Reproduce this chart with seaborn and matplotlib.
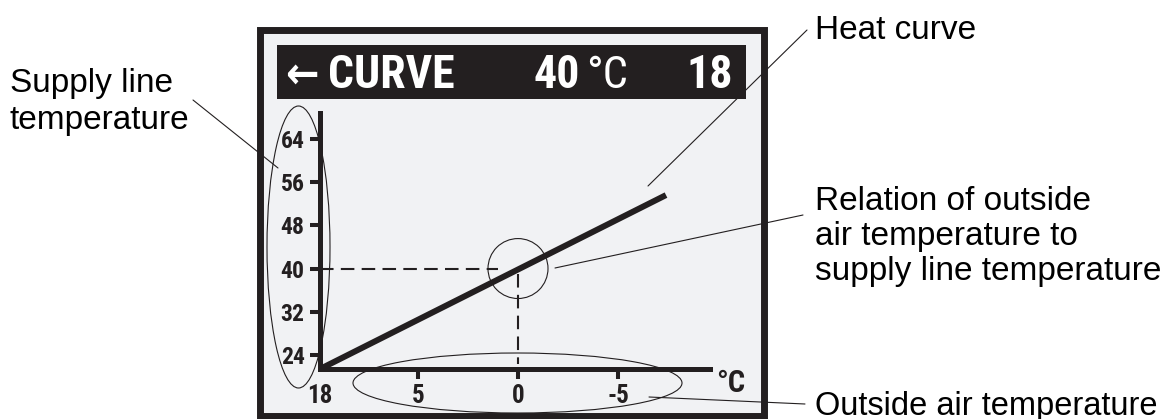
import numpy as np
import pandas as pd
from matplotlib import pyplot as plt
from matplotlib import font_manager
from matplotlib.patches import Rectangle, Ellipse
import seaborn as sns

sns.set_theme(style="white")

origin_outside = 9.9        # where the axes meet, labelled with the room temp
room_temp = 18
x_tick_pos = [origin_outside, 5, 0, -5]
x_tick_labels = ['18', '5', '0', '-5']
y_ticks = [24, 32, 40, 48, 56, 64]
curve_outside = [origin_outside, -7.4]
curve_supply = [21.4, 53.6]
set_outside = 0
set_supply = 40
x_range = (origin_outside, -9.6)
y_range = (21.4, 68.8)

callouts = ['Supply line\ntemperature', 'Heat curve',
            'Relation of outside\nair temperature to\nsupply line temperature',
            'Outside air temperature']


def condensed_font():
    # look for a narrow/condensed bold face among installed fonts
    prefs = ['Liberation Sans Narrow', 'Roboto Condensed', 'Noto Sans',
             'DejaVu Sans', 'Open Sans', 'Roboto', 'Lato', 'Inter']
    found = {}
    for f in font_manager.fontManager.ttflist:
        if f.stretch in ('condensed', 'semi-condensed', 'extra-condensed',
                         'ultra-condensed') or 'Narrow' in f.name or 'Condensed' in f.name:
            found.setdefault(f.name, f.stretch)
    for name in prefs:
        if name in found:
            return name, found[name]
    if found:
        name = sorted(found)[0]
        return name, found[name]
    return 'Roboto', 'normal'


narrow, narrow_stretch = condensed_font()
plain = 'Liberation Sans'
plt.rcParams['font.family'] = [plain, 'DejaVu Sans']

ink = '#231f20'
W, H = 1167, 419
fig = plt.figure(figsize=(W / 100, H / 100), dpi=100)

bold_narrow = dict(family=[narrow, 'DejaVu Sans'], stretch=narrow_stretch,
                   fontweight='bold')

# decoration layer in pixel units (y down)
deco = fig.add_axes([0, 0, 1, 1], zorder=0)
deco.set_xlim(0, W)
deco.set_ylim(H, 0)
deco.axis('off')

deco.add_patch(Rectangle((259.5, 30.5), 504, 385, facecolor='#f1f2f4',
                         edgecolor=ink, lw=5))
deco.add_patch(Rectangle((277, 45), 469, 54, facecolor=ink, edgecolor='none'))
deco.text(285, 88, '\u2190', color='white', fontsize=32,
          va='baseline', **bold_narrow)
deco.text(328, 88, 'CURVE', color='white', fontsize=33,
          va='baseline', **bold_narrow)
deco.text(580, 88, str(set_supply), color='white', fontsize=33,
          va='baseline', ha='right', **bold_narrow)
deco.text(628, 88, '\u00b0C', color='white', fontsize=32, ha='right',
          family=[narrow, 'DejaVu Sans'], stretch=narrow_stretch, va='baseline')
deco.text(733, 88, str(room_temp), color='white', fontsize=33,
          va='baseline', ha='right', **bold_narrow)

# callout texts
fs = 24
for i, line in enumerate(callouts[0].split('\n')):
    deco.text(10, 92 + 37 * i, line, fontsize=fs, va='baseline', color='black')
deco.text(815, 39, callouts[1], fontsize=fs, va='baseline', color='black')
for i, line in enumerate(callouts[2].split('\n')):
    deco.text(815, 210 + 35 * i, line, fontsize=fs, va='baseline', color='black')
deco.text(815, 415, callouts[3], fontsize=23.5, va='baseline', color='black')

# leader lines and marking ellipses
for (x0, y0), (x1, y1) in [((193, 100), (278, 168)), ((807, 30), (648, 186)),
                           ((555, 268), (803, 215)), ((649, 397), (805, 404))]:
    deco.plot([x0, x1], [y0, y1], color=ink, lw=0.8)
deco.add_patch(Ellipse((298.5, 247), 63, 282, fill=False, edgecolor=ink, lw=0.8))
deco.add_patch(Ellipse((517.5, 383), 329, 60, fill=False, edgecolor=ink, lw=0.8))
deco.text(731, 383, '\u00b0C', fontsize=22, color=ink,
          ha='center', va='center', **bold_narrow)

# the curve display itself
ax = fig.add_axes([320 / W, (H - 369) / H, 390 / W, 256 / H], zorder=1)
ax.patch.set_alpha(0)
df = pd.DataFrame({'outside': curve_outside, 'supply': curve_supply})
sns.lineplot(data=df, x='outside', y='supply', color=ink, lw=4.3, ax=ax,
             solid_capstyle='butt')
ax.plot([origin_outside, set_outside + 1], [set_supply, set_supply], color=ink,
        lw=1.5, dashes=(6.5, 3.5))
ax.plot([set_outside, set_outside], [set_supply - 1, y_range[0] + 1], color=ink,
        lw=1.5, dashes=(6.5, 3.5))
ax.add_patch(Ellipse((set_outside, set_supply), 3.0, 11.1, fill=False,
                     edgecolor=ink, lw=0.8))

ax.set_xlim(*x_range)
ax.set_ylim(*y_range)
ax.set_xticks(x_tick_pos)
ax.set_xticklabels(x_tick_labels)
ax.set_yticks(y_ticks)
ax.set_xlabel('')
ax.set_ylabel('')
for s in ['top', 'right']:
    ax.spines[s].set_visible(False)
for s in ['left', 'bottom']:
    ax.spines[s].set_color(ink)
    ax.spines[s].set_linewidth(3.6)
ax.tick_params(axis='both', direction='out', length=7, width=2.9, color=ink,
               pad=4, left=True, bottom=True)
ax.xaxis.get_major_ticks()[0].tick1line.set_visible(False)
for lab, size in [(l, 17) for l in ax.get_yticklabels()] + \
                 [(l, 18) for l in ax.get_xticklabels()]:
    lab.set_fontsize(size)
    lab.set_fontweight('bold')
    lab.set_family([narrow, 'DejaVu Sans'])
    lab.set_stretch(narrow_stretch)
    lab.set_color(ink)

fig.savefig('out.png', dpi=100)
